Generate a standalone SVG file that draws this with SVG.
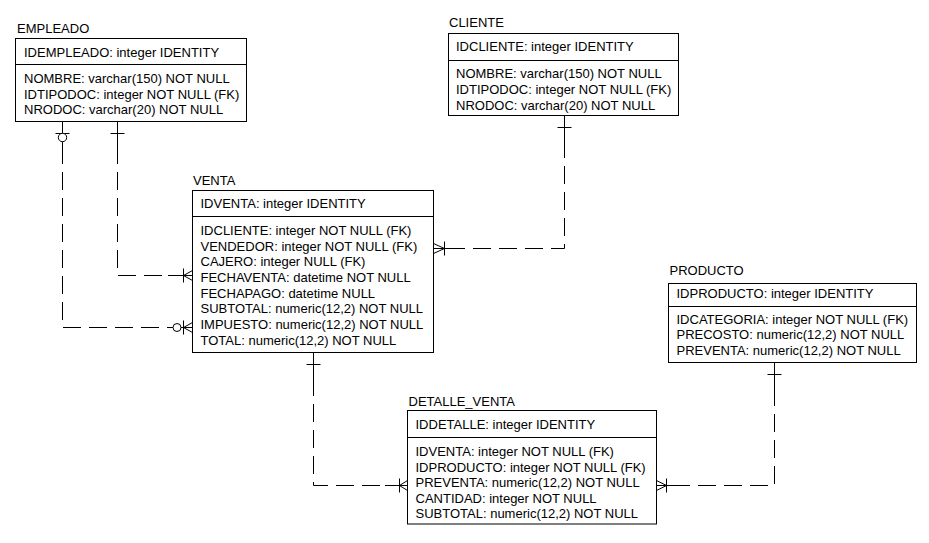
<svg xmlns="http://www.w3.org/2000/svg" width="929" height="543" viewBox="0 0 929 543">
<style>
text{font-family:"Liberation Sans",Arial,sans-serif;font-size:13px;fill:#000}
.box{fill:#fff;stroke:#000;stroke-width:1}
.div{stroke:#000;stroke-width:1}
.ln{fill:none;stroke:#000;stroke-width:1}
.dash{stroke-dasharray:18 8}
.circ{fill:#fff;stroke:#000;stroke-width:1}
</style>
<rect width="929" height="543" fill="#fff"/>
<g id="connectors">
  <!-- EMPLEADO -> VENTA (CAJERO) -->
  <path class="ln" d="M62.5,121.5 V146"/>
  <path class="ln dash" d="M62.5,146 V327.5 H168"/>
  <path class="ln" d="M168,327.5 H192.5"/>
  <path class="ln" d="M55.5,133.5 H69.5"/>
  <circle class="circ" cx="62.5" cy="137.5" r="4.2"/>
  <circle class="circ" cx="177" cy="327.5" r="4"/>
  <path class="ln" d="M183.5,320.5 V334.5 M183.5,327.5 L192.5,322.5 M183.5,327.5 L192.5,332.5"/>
  <!-- EMPLEADO -> VENTA (VENDEDOR) -->
  <path class="ln" d="M117.5,121.5 V146"/>
  <path class="ln dash" d="M117.5,146 V275.5 H168"/>
  <path class="ln" d="M168,275.5 H192.5"/>
  <path class="ln" d="M110.5,133.5 H124.5"/>
  <path class="ln" d="M183.5,268.5 V282.5 M183.5,275.5 L192.5,270.5 M183.5,275.5 L192.5,280.5"/>
  <!-- CLIENTE -> VENTA -->
  <path class="ln" d="M564.5,115.5 V140"/>
  <path class="ln dash" d="M564.5,140 V248.5 H458"/>
  <path class="ln" d="M458,248.5 H433.5"/>
  <path class="ln" d="M557.5,127.5 H571.5"/>
  <path class="ln" d="M444.5,241.5 V255.5 M444.5,248.5 L433.5,243.5 M444.5,248.5 L433.5,253.5"/>
  <!-- VENTA -> DETALLE_VENTA -->
  <path class="ln" d="M313.5,352.5 V378"/>
  <path class="ln dash" d="M313.5,378 V485.5 H385"/>
  <path class="ln" d="M385,485.5 H407.5"/>
  <path class="ln" d="M306.5,364.5 H320.5"/>
  <path class="ln" d="M399.5,478.5 V492.5 M399.5,485.5 L407.5,480.5 M399.5,485.5 L407.5,490.5"/>
  <!-- PRODUCTO -> DETALLE_VENTA -->
  <path class="ln" d="M774.5,362.5 V388"/>
  <path class="ln dash" d="M774.5,388 V485.5 H680"/>
  <path class="ln" d="M680,485.5 H656.5"/>
  <path class="ln" d="M767.5,374.5 H781.5"/>
  <path class="ln" d="M666.5,478.5 V492.5 M666.5,485.5 L656.5,480.5 M666.5,485.5 L656.5,490.5"/>
</g>
<g id="EMPLEADO">
  <text x="17" y="33">EMPLEADO</text>
  <rect class="box" x="15.5" y="38.5" width="231" height="83"/>
  <line class="div" x1="15.5" y1="64.5" x2="246.5" y2="64.5"/>
  <text x="24" y="56.5">IDEMPLEADO: integer IDENTITY</text>
  <text x="24" y="83">NOMBRE: varchar(150) NOT NULL</text>
  <text x="24" y="98.7">IDTIPODOC: integer NOT NULL (FK)</text>
  <text x="24" y="114.3">NRODOC: varchar(20) NOT NULL</text>
</g>
<g id="CLIENTE">
  <text x="449" y="27.3">CLIENTE</text>
  <rect class="box" x="448.5" y="33.5" width="230" height="82"/>
  <line class="div" x1="448.5" y1="60.5" x2="678.5" y2="60.5"/>
  <text x="456" y="50.7">IDCLIENTE: integer IDENTITY</text>
  <text x="456" y="78.3">NOMBRE: varchar(150) NOT NULL</text>
  <text x="456" y="94">IDTIPODOC: integer NOT NULL (FK)</text>
  <text x="456" y="109.5">NRODOC: varchar(20) NOT NULL</text>
</g>
<g id="VENTA">
  <text x="193" y="185">VENTA</text>
  <rect class="box" x="192.5" y="190.5" width="241" height="162"/>
  <line class="div" x1="192.5" y1="216.5" x2="433.5" y2="216.5"/>
  <text x="200.5" y="207.7">IDVENTA: integer IDENTITY</text>
  <text x="200.5" y="235">IDCLIENTE: integer NOT NULL (FK)</text>
  <text x="200.5" y="250.7">VENDEDOR: integer NOT NULL (FK)</text>
  <text x="200.5" y="266.3">CAJERO: integer NULL (FK)</text>
  <text x="200.5" y="282">FECHAVENTA: datetime NOT NULL</text>
  <text x="200.5" y="297.6">FECHAPAGO: datetime NULL</text>
  <text x="200.5" y="313.2">SUBTOTAL: numeric(12,2) NOT NULL</text>
  <text x="200.5" y="328.9">IMPUESTO: numeric(12,2) NOT NULL</text>
  <text x="200.5" y="344.5">TOTAL: numeric(12,2) NOT NULL</text>
</g>
<g id="DETALLE_VENTA">
  <text x="408.5" y="406">DETALLE_VENTA</text>
  <rect class="box" x="407.5" y="410.5" width="249" height="113.5"/>
  <line class="div" x1="407.5" y1="437.5" x2="656.5" y2="437.5"/>
  <text x="415.5" y="429.3">IDDETALLE: integer IDENTITY</text>
  <text x="415.5" y="456">IDVENTA: integer NOT NULL (FK)</text>
  <text x="415.5" y="471.6">IDPRODUCTO: integer NOT NULL (FK)</text>
  <text x="415.5" y="487.2">PREVENTA: numeric(12,2) NOT NULL</text>
  <text x="415.5" y="502.8">CANTIDAD: integer NOT NULL</text>
  <text x="415.5" y="518">SUBTOTAL: numeric(12,2) NOT NULL</text>
</g>
<g id="PRODUCTO">
  <text x="669.5" y="275">PRODUCTO</text>
  <rect class="box" x="668.5" y="283.5" width="248" height="79"/>
  <line class="div" x1="668.5" y1="306.5" x2="916.5" y2="306.5"/>
  <text x="676.5" y="297.7">IDPRODUCTO: integer IDENTITY</text>
  <text x="676.5" y="323.5">IDCATEGORIA: integer NOT NULL (FK)</text>
  <text x="676.5" y="339">PRECOSTO: numeric(12,2) NOT NULL</text>
  <text x="676.5" y="354.5">PREVENTA: numeric(12,2) NOT NULL</text>
</g>
</svg>
